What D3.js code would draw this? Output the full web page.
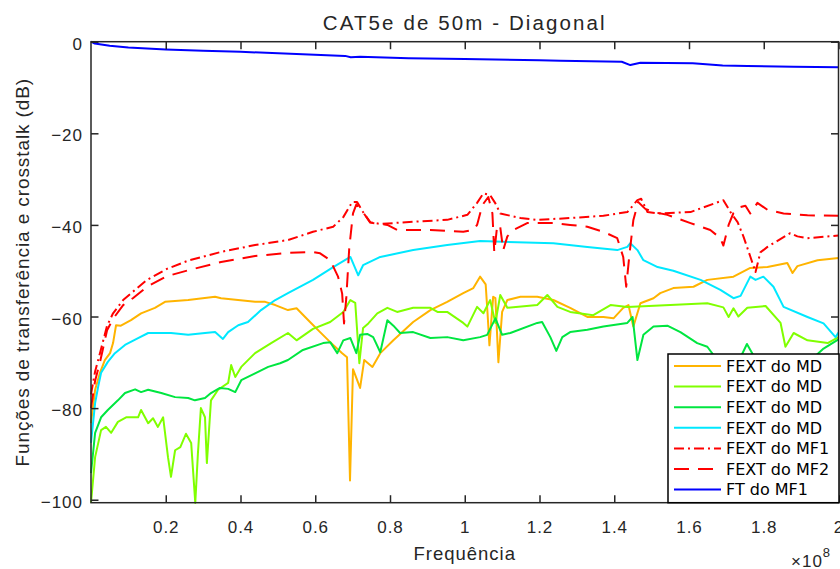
<!DOCTYPE html>
<html>
<head>
<meta charset="utf-8">
<script src="https://cdn.jsdelivr.net/npm/d3@7"></script>
<style>
  body { margin: 0; background: #fff; }
  svg { display: block; }
  .axis text { font-family: "Liberation Sans", Arial, sans-serif; fill: #262626; }
</style>
</head>
<body>
<div id="chart"></div>
<script>
// frequency in units of 1e8 Hz, level in dB
var fextMD1 = [[0,-83.3],[0.011,-76],[0.024,-72.3],[0.037,-69.5],[0.051,-68],[0.059,-65.8],[0.067,-61.9],[0.08,-62],
  [0.107,-60.8],[0.134,-59.3],[0.171,-58.1],[0.198,-56.8],[0.26,-56.4],[0.332,-55.7],[0.348,-56],[0.439,-56.8],
  [0.466,-56.8],[0.493,-57.5],[0.527,-58.6],[0.55,-58.2],[0.586,-61.2],[0.613,-63.4],[0.64,-65.6],[0.672,-68],
  [0.685,-68.9],[0.693,-95.8],[0.701,-71.5],[0.72,-75.6],[0.731,-69.5],[0.753,-71],[0.774,-68],[0.809,-65.2],
  [0.862,-61.2],[0.908,-58.6],[0.953,-56.8],[0.996,-54.9],[1.023,-53.8],[1.041,-51.3],[1.056,-53],[1.061,-59.3],
  [1.066,-66.3],[1.076,-55.7],[1.082,-56],[1.09,-70],[1.1,-59],[1.114,-56.4],[1.149,-55.7],[1.194,-55.7],
  [1.237,-56.4],[1.282,-58.1],[1.328,-60.1],[1.371,-60.1],[1.398,-60.4],[1.424,-58.1],[1.438,-57.5],[1.451,-62.2],
  [1.47,-57.1],[1.505,-56],[1.523,-54.9],[1.558,-53.8],[1.612,-53.5],[1.649,-52],[1.719,-51.3],[1.764,-49.4],
  [1.81,-49.2],[1.863,-48.3],[1.877,-50.5],[1.89,-49],[1.944,-47.7],[2.0,-47.2]];

var fextMD2 = [[0,-100.7],[0.011,-90.7],[0.027,-84.8],[0.04,-84.1],[0.054,-85.4],[0.072,-83],[0.094,-82],[0.126,-82],
  [0.134,-80.4],[0.153,-83.3],[0.166,-82.2],[0.179,-84.1],[0.193,-82],[0.206,-90.7],[0.214,-95],[0.225,-89.2],
  [0.239,-88.5],[0.254,-85.6],[0.268,-87.6],[0.279,-100.7],[0.286,-90],[0.294,-80],[0.305,-82],[0.31,-92],
  [0.321,-78.3],[0.34,-76],[0.367,-74.5],[0.375,-70.6],[0.386,-73.2],[0.402,-71],[0.439,-68],[0.482,-65.8],
  [0.527,-63.6],[0.55,-65.2],[0.594,-62.7],[0.64,-61.2],[0.675,-59],[0.694,-56.4],[0.707,-57],[0.718,-70.2],
  [0.728,-62.5],[0.742,-61.5],[0.766,-59.3],[0.793,-58.1],[0.819,-59],[0.862,-58.1],[0.908,-58.1],[0.927,-59],
  [0.953,-59],[0.996,-61.4],[1.007,-62.2],[1.033,-57.9],[1.05,-59.3],[1.068,-56.4],[1.082,-61.4],[1.095,-55.3],
  [1.114,-58.1],[1.194,-57.5],[1.221,-55.3],[1.248,-57.9],[1.282,-59],[1.344,-59.7],[1.39,-57.5],[1.435,-57.9],
  [1.55,-57.5],[1.649,-57.1],[1.692,-58],[1.706,-60.1],[1.719,-58.2],[1.732,-60],[1.756,-58.1],[1.805,-57.7],
  [1.845,-61.4],[1.858,-66.6],[1.88,-63.6],[1.917,-65.2],[1.971,-65.8],[2.0,-64.5]];

var fextMD3 = [[0,-94.2],[0.011,-85.4],[0.027,-82],[0.045,-80.4],[0.072,-78.3],[0.091,-76.7],[0.118,-75.9],
  [0.134,-76.5],[0.153,-76],[0.188,-76.7],[0.225,-77.6],[0.26,-77.8],[0.278,-78.3],[0.305,-77.8],[0.321,-76.7],
  [0.345,-75.6],[0.367,-75.8],[0.386,-76.5],[0.402,-73.9],[0.439,-72.4],[0.474,-71],[0.506,-70.2],[0.527,-69.5],
  [0.567,-67.3],[0.621,-65.8],[0.64,-65.6],[0.659,-68],[0.675,-65.2],[0.694,-64.7],[0.71,-68],[0.72,-64],
  [0.739,-63.8],[0.755,-64.5],[0.774,-67.8],[0.793,-60.8],[0.809,-62],[0.827,-63.6],[0.862,-63.4],[0.908,-64.7],
  [0.953,-64.5],[0.996,-65.2],[1.041,-64.5],[1.06,-64],[1.082,-60.4],[1.1,-64],[1.122,-63.6],[1.194,-61.4],
  [1.207,-61.2],[1.229,-64.5],[1.245,-67.5],[1.261,-64.5],[1.282,-63.4],[1.328,-62.9],[1.371,-62.2],[1.435,-61.4],
  [1.449,-60.1],[1.462,-69.5],[1.478,-64],[1.505,-62.2],[1.542,-62],[1.577,-63.4],[1.622,-65.8],[1.649,-66.6],
  [1.68,-70],[1.72,-72],[1.755,-66],[1.79,-71],[1.85,-72],[1.92,-70],[1.96,-67],[2.0,-65]];

var fextMD4 = [[0,-87.6],[0.011,-78.9],[0.019,-75.4],[0.027,-72.3],[0.045,-69.9],[0.064,-68],[0.091,-66.2],
  [0.126,-64.7],[0.153,-63.6],[0.214,-63.6],[0.26,-64],[0.305,-63.6],[0.332,-63.4],[0.353,-64.9],[0.367,-63.4],
  [0.394,-61.9],[0.42,-61.2],[0.455,-58.6],[0.493,-56.4],[0.527,-54.9],[0.594,-52],[0.648,-49.2],[0.694,-47],
  [0.715,-51],[0.728,-48.8],[0.774,-47],[0.862,-45.5],[0.953,-44.4],[1.041,-43.5],[1.103,-43.7],[1.237,-44],
  [1.328,-44.8],[1.408,-45.5],[1.435,-44.8],[1.443,-44],[1.462,-45.5],[1.478,-47.7],[1.516,-49.2],[1.558,-50],
  [1.631,-52],[1.684,-54.2],[1.719,-56],[1.738,-55.5],[1.764,-51.3],[1.778,-52],[1.799,-51.3],[1.826,-53.5],
  [1.853,-57.9],[1.917,-60.1],[1.96,-61.5],[1.992,-64.5],[2.0,-63.5]];

var fextMF1 = [[0,-77],[0.011,-72],[0.024,-68],[0.043,-62],[0.059,-59.3],[0.086,-56.4],[0.112,-54.6],[0.15,-52],
  [0.203,-49.6],[0.26,-47.8],[0.348,-45.9],[0.439,-44.4],[0.527,-43.3],[0.594,-41.5],[0.648,-40.4],[0.675,-38.3],
  [0.699,-35],[0.712,-35],[0.728,-37.2],[0.747,-39.4],[0.774,-39.8],[0.862,-39.3],[0.953,-38.9],[1.007,-37.8],
  [1.033,-35.2],[1.05,-33.1],[1.068,-33.5],[1.082,-35.3],[1.095,-37.5],[1.149,-38.5],[1.194,-38.9],[1.282,-38.5],
  [1.371,-38],[1.435,-37.2],[1.462,-34.6],[1.472,-34.3],[1.489,-37.2],[1.516,-37.5],[1.604,-37.2],[1.692,-34.6],
  [1.711,-37.2],[1.73,-39.4],[1.746,-42.6],[1.764,-46.9],[1.778,-50.3],[1.791,-46],[1.81,-44.8],[1.871,-41.8],
  [1.89,-42.5],[1.917,-42.9],[2.0,-42.3]];

var fextMF2 = [[0,-80],[0.011,-74],[0.024,-70],[0.043,-63],[0.059,-60.5],[0.086,-57.5],[0.112,-56],[0.15,-53.5],
  [0.203,-51.2],[0.26,-49.9],[0.348,-48.1],[0.439,-46.8],[0.527,-46.1],[0.594,-45.9],[0.613,-46.2],[0.64,-47.7],
  [0.661,-51.3],[0.672,-55],[0.677,-61.5],[0.683,-56],[0.691,-45],[0.701,-37.5],[0.71,-35.5],[0.726,-37],
  [0.747,-39.5],[0.793,-40],[0.819,-41.1],[0.908,-41.1],[0.996,-41.5],[1.023,-41.1],[1.033,-40],[1.047,-35.7],
  [1.063,-33.9],[1.074,-37.5],[1.079,-46],[1.087,-40],[1.095,-40.5],[1.103,-45.5],[1.114,-42.5],[1.13,-41.1],
  [1.167,-39.6],[1.237,-39.6],[1.282,-40],[1.328,-40.4],[1.371,-41.5],[1.408,-42.9],[1.424,-47],[1.432,-53.5],
  [1.44,-47],[1.451,-39],[1.464,-35],[1.483,-36.5],[1.505,-37.2],[1.542,-37.8],[1.604,-39.6],[1.657,-41.1],
  [1.684,-42.9],[1.692,-44.5],[1.706,-40],[1.719,-37.4],[1.738,-36.1],[1.751,-35.8],[1.764,-37.5],[1.783,-35.2],
  [1.81,-36.7],[1.853,-37.5],[1.917,-37.9],[2.0,-38]];

var ftMF1 = [[0,0],[0.01,-0.4],[0.05,-0.9],[0.1,-1.25],[0.2,-1.7],[0.3,-2.0],[0.4,-2.2],[0.55,-2.7],[0.68,-3.1],
  [0.695,-3.4],[0.72,-3.3],[0.85,-3.6],[1.0,-3.8],[1.2,-4.05],[1.256,-4.15],[1.42,-4.37],[1.443,-5.1],[1.47,-4.6],
  [1.61,-4.7],[1.69,-5.2],[1.756,-5.3],[1.88,-5.45],[2.0,-5.6]];

var legendLabels = ["FEXT do MD", "FEXT do MD", "FEXT do MD", "FEXT do MD", "FEXT do MF1", "FEXT do MF2", "FT do MF1"];
var xTicks = [0.2, 0.4, 0.6, 0.8, 1, 1.2, 1.4, 1.6, 1.8, 2];
var yTicks = [0, -20, -40, -60, -80, -100];

var series = [
  {data: fextMD1, color: "#ffb400", dash: null},
  {data: fextMD2, color: "#80ff00", dash: null},
  {data: fextMD3, color: "#00e640", dash: null},
  {data: fextMD4, color: "#00e8ff", dash: null},
  {data: fextMF1, color: "#ff0000", dash: "10,4,2,4"},
  {data: fextMF2, color: "#ff0000", dash: "15,9"},
  {data: ftMF1,   color: "#0000ff", dash: null}
];

var width = 840, height = 569;
var plot = {x0: 91, x1: 838.5, y0: 41.7, y1: 502.7};

var svg = d3.select("#chart").append("svg")
    .attr("width", width)
    .attr("height", height);

var x = d3.scaleLinear().domain([0, 2]).range([plot.x0, plot.x1]);
var y = d3.scaleLinear().domain([-100.65, 0]).range([plot.y1, plot.y0]);

svg.append("defs").append("clipPath").attr("id", "clip")
  .append("rect")
    .attr("x", plot.x0 - 2).attr("y", plot.y0 - 2)
    .attr("width", plot.x1 - plot.x0 + 4).attr("height", plot.y1 - plot.y0 + 4);

var line = d3.line()
    .x(function(d) { return x(d[0]); })
    .y(function(d) { return y(d[1]); });

svg.append("g").attr("clip-path", "url(#clip)")
  .selectAll("path").data(series).enter()
  .append("path")
    .attr("d", function(d) { return line(d.data); })
    .attr("fill", "none")
    .attr("stroke", function(d) { return d.color; })
    .attr("stroke-width", 2)
    .attr("stroke-dasharray", function(d) { return d.dash; })
    .attr("stroke-linejoin", "round");

// axes (ticks pointing inwards, box on)
var fmtX = function(d) { return String(+d.toFixed(1)); };

var xAxis = svg.append("g").attr("class", "axis")
    .attr("transform", "translate(0," + plot.y1 + ")")
    .call(d3.axisBottom(x).tickValues(xTicks).tickSizeInner(-7.5).tickSizeOuter(0).tickFormat(fmtX));
svg.append("g").attr("class", "axis")
    .attr("transform", "translate(0," + plot.y0 + ")")
    .call(d3.axisTop(x).tickValues(xTicks).tickSizeInner(-7.5).tickSizeOuter(0).tickFormat(""));
var yAxis = svg.append("g").attr("class", "axis")
    .attr("transform", "translate(" + plot.x0 + ",0)")
    .call(d3.axisLeft(y).tickValues(yTicks).tickSizeInner(-7.5).tickSizeOuter(0));
svg.append("g").attr("class", "axis")
    .attr("transform", "translate(" + plot.x1 + ",0)")
    .call(d3.axisRight(y).tickValues(yTicks).tickSizeInner(-7.5).tickSizeOuter(0).tickFormat(""));

svg.selectAll(".axis path.domain").remove();
svg.selectAll(".axis line").attr("stroke", "#262626").attr("stroke-width", 1.5);
svg.selectAll(".axis text")
    .style("font-size", "17px")
    .style("letter-spacing", "1px");
xAxis.selectAll("text").attr("y", 18).attr("dy", "0.71em");
yAxis.selectAll("text").attr("x", -8).attr("dy", "0.45em");

svg.append("rect")
    .attr("x", plot.x0).attr("y", plot.y0)
    .attr("width", plot.x1 - plot.x0).attr("height", plot.y1 - plot.y0)
    .attr("fill", "none")
    .attr("stroke", "#262626")
    .attr("stroke-width", 1.5);

// title and labels
var labelFont = '"Liberation Sans", Arial, sans-serif';
var midX = (plot.x0 + plot.x1) / 2, midY = (plot.y0 + plot.y1) / 2;

svg.append("text")
    .attr("x", midX).attr("y", 30)
    .attr("text-anchor", "middle")
    .style("font-family", labelFont).style("font-size", "20.5px")
    .style("letter-spacing", "2.1px").style("fill", "#262626")
    .text("CAT5e de 50m - Diagonal");

svg.append("text")
    .attr("x", midX).attr("y", 560)
    .attr("text-anchor", "middle")
    .style("font-family", labelFont).style("font-size", "18.5px")
    .style("letter-spacing", "1px").style("fill", "#262626")
    .text("Frequência");

svg.append("text")
    .attr("transform", "translate(29," + midY + ") rotate(-90)")
    .attr("text-anchor", "middle")
    .style("font-family", labelFont).style("font-size", "19px")
    .style("letter-spacing", "0.9px").style("fill", "#262626")
    .text("Funções de transferência e crosstalk (dB)");

var expo = svg.append("text")
    .attr("x", 791).attr("y", 567)
    .style("font-family", labelFont).style("font-size", "17px")
    .style("letter-spacing", "1px").style("fill", "#262626");
expo.append("tspan").text("×10");
expo.append("tspan").attr("dy", -10).style("font-size", "13px").text("8");

// legend
var lg = svg.append("g").attr("transform", "translate(668,354)");
lg.append("rect")
    .attr("width", 171).attr("height", 148.7)
    .attr("fill", "#fff")
    .attr("stroke", "#000")
    .attr("stroke-width", 1.5);

var items = lg.selectAll("g.item").data(series).enter()
  .append("g").attr("class", "item")
    .attr("transform", function(d, i) { return "translate(0," + (12 + i * 20.6) + ")"; });
items.append("line")
    .attr("x1", 6).attr("x2", 53)
    .attr("stroke", function(d) { return d.color; })
    .attr("stroke-width", 2)
    .attr("stroke-dasharray", function(d) { return d.dash; });
items.append("text")
    .attr("x", 58).attr("dy", "0.36em")
    .style("font-family", '"DejaVu Sans", sans-serif')
    .style("font-size", "16px")
    .style("fill", "#000")
    .text(function(d, i) { return legendLabels[i]; });
</script>
</body>
</html>
